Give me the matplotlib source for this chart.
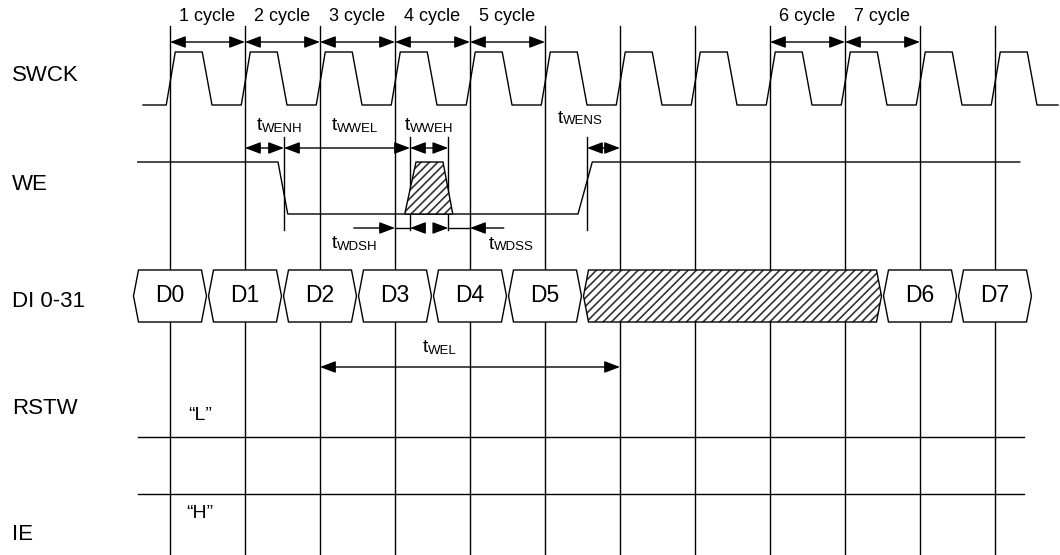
import matplotlib
matplotlib.use("Agg")
import matplotlib.pyplot as plt
from matplotlib.patches import Polygon, FancyArrowPatch

plt.rcParams['font.family'] = ['Liberation Sans', 'DejaVu Sans']
plt.rcParams['hatch.linewidth'] = 1.2

# ---- data: time is in clock cycles, 0 = first rising edge of SWCK ----
signal_names = ["SWCK", "WE", "DI 0-31", "RSTW", "IE"]
clock_edges = list(range(12))
cycle_labels = ["1 cycle", "2 cycle", "3 cycle", "4 cycle", "5 cycle", "6 cycle", "7 cycle"]
cycle_starts = [0, 1, 2, 3, 4, 8, 9]

clk_shape = [-0.05, 0.07, 0.43, 0.56]      # rise start/end, fall start/end in one period
clk_span = [-0.36, 11.84]

we_times = [-0.43, 1.44, 1.57, 5.44, 5.63, 11.33]
we_levels = [1, 1, 0, 0, 1, 1]
we_pulse_times = [3.13, 3.28, 3.64, 3.77]  # hatched "don't care" pulse
we_pulse_levels = [0, 1, 1, 0]

data_labels = ["D0", "D1", "D2", "D3", "D4", "D5", None, "D6", "D7"]
data_bounds = [-0.5, 0.5, 1.5, 2.5, 3.5, 4.5, 5.5, 9.5, 10.5, 11.5]

static_lines_span = [-0.43, 11.39]
static_levels = ['\u201cL\u201d', '\u201cH\u201d']

# (name, start, end) double-headed timing arrows on the WE row
we_timings = [("WENH", 1.0, 1.52), ("WWEL", 1.52, 3.2), ("WWEH", 3.2, 3.71), ("WENS", 5.56, 6.0)]
# setup / hold arrows under WE: (target, tail) pointing at target
hold_setup_heads = [(3.0, 2.45), (3.2, 3.39), (3.71, 3.52), (4.0, 4.45)]
twel_span = (2.0, 6.0)

# ---- layout (pixels on a 1060x555 canvas, x axis in cycles) ----
PX0, PXC = 170, 75.0
clk_hi, clk_lo = 52, 105
we_hi, we_lo = 162, 214
di_top, di_bot = 270, 322
rst_y, ie_y = 437, 494
LW = 1.0
HATCH_C = '#333333'

fig = plt.figure(figsize=(10.6, 5.55), dpi=100)
ax = fig.add_axes([0, 0, 1, 1])
ax.set_xlim(-PX0 / PXC, (1060 - PX0) / PXC)
ax.set_ylim(555, 0)
ax.axis('off')


def arrow(x0, x1, y, style):
    ax.add_patch(FancyArrowPatch((x0, y), (x1, y), arrowstyle=style + ",head_length=0.95,head_width=0.36",
                                 mutation_scale=10, color='black', lw=LW, shrinkA=0, shrinkB=0, zorder=5))


# clock edge grid
for e in clock_edges:
    ax.plot([e, e], [26, 555], color='black', lw=LW, zorder=1)

# SWCK
xs, ys = [clk_span[0]], [clk_lo]
for e in clock_edges:
    r0, r1, f0, f1 = [e + s for s in clk_shape]
    xs += [r0, r1, f0, f1]
    ys += [clk_lo, clk_hi, clk_hi, clk_lo]
xs.append(clk_span[1])
ys.append(clk_lo)
ax.plot(xs, ys, color='black', lw=LW, zorder=2)

# cycle arrows
for lab, s in zip(cycle_labels, cycle_starts):
    arrow(s, s + 1, 42, "<|-|>")
    ax.text(s + 0.5, 21, lab, ha='center', va='baseline', fontsize=13)

# WE
ax.plot(we_times, [we_lo + (we_hi - we_lo) * v for v in we_levels], color='black', lw=LW, zorder=2)
pulse = [(t, we_lo + (we_hi - we_lo) * v) for t, v in zip(we_pulse_times, we_pulse_levels)]
ax.add_patch(Polygon(pulse, closed=True, facecolor='white', edgecolor=HATCH_C, hatch='////', lw=0, zorder=3))
ax.add_patch(Polygon(pulse, closed=True, fill=False, edgecolor='black', lw=LW, zorder=4))

# WE timing arrows + extension lines
for name, a, b in we_timings:
    arrow(a, b, 148, "<|-|>")
ext = sorted(set([b for _, _, b in we_timings[:3]] + [we_timings[3][1]]))
for x in ext:
    ax.plot([x, x], [137, 230], color='black', lw=LW, zorder=2)

for tgt, tail in hold_setup_heads:
    arrow(tail, tgt, 228, "-|>")
ax.plot([3.0, 3.2], [228, 228], color='black', lw=LW, zorder=2)
ax.plot([3.71, 4.0], [228, 228], color='black', lw=LW, zorder=2)


def tlabel(xj, y, sub):
    ax.text(xj, y, "t", ha='right', va='baseline', fontsize=14, zorder=6)
    ax.text(xj, y + 1.5, sub, ha='left', va='baseline', fontsize=9.5, zorder=6)


tlabel((262 - PX0) / PXC, 130, "WENH")
tlabel((337 - PX0) / PXC, 130, "WWEL")
tlabel((410 - PX0) / PXC, 130, "WWEH")
tlabel((563 - PX0) / PXC, 123, "WENS")
tlabel((337 - PX0) / PXC, 248, "WDSH")
tlabel((494 - PX0) / PXC, 249, "WDSS")
tlabel((428 - PX0) / PXC, 352, "WEL")

# DI bus
sl, gap = 5 / PXC, 1 / PXC
di_mid = (di_top + di_bot) / 2
for lab, x0, x1 in zip(data_labels, data_bounds[:-1], data_bounds[1:]):
    x0, x1 = x0 + gap, x1 - gap
    hexa = [(x0, di_mid), (x0 + sl, di_top), (x1 - sl, di_top), (x1, di_mid), (x1 - sl, di_bot), (x0 + sl, di_bot)]
    if lab is None:
        ax.add_patch(Polygon(hexa, closed=True, facecolor='white', edgecolor=HATCH_C, hatch='////', lw=0, zorder=3))
        ax.add_patch(Polygon(hexa, closed=True, fill=False, edgecolor='black', lw=LW, zorder=4))
    else:
        ax.add_patch(Polygon(hexa, closed=True, facecolor='white', edgecolor='black', lw=LW, zorder=3))
        ax.text((x0 + x1) / 2, 302, lab, ha='center', va='baseline', fontsize=16.5, zorder=6)

arrow(twel_span[0], twel_span[1], 367, "<|-|>")

# RSTW / IE static levels
for y in (rst_y, ie_y):
    ax.plot(static_lines_span, [y, y], color='black', lw=LW, zorder=2)
ax.text(0.4, 420, static_levels[0], ha='center', va='baseline', fontsize=14)
ax.text(0.4, 518, static_levels[1], ha='center', va='baseline', fontsize=14)

# signal names
name_y = [81, 190, 307, 414, 540]
for n, y in zip(signal_names, name_y):
    ax.text(-158 / PXC, y, n, ha='left', va='baseline', fontsize=16)

fig.savefig("out.png", dpi=100, facecolor='white')
